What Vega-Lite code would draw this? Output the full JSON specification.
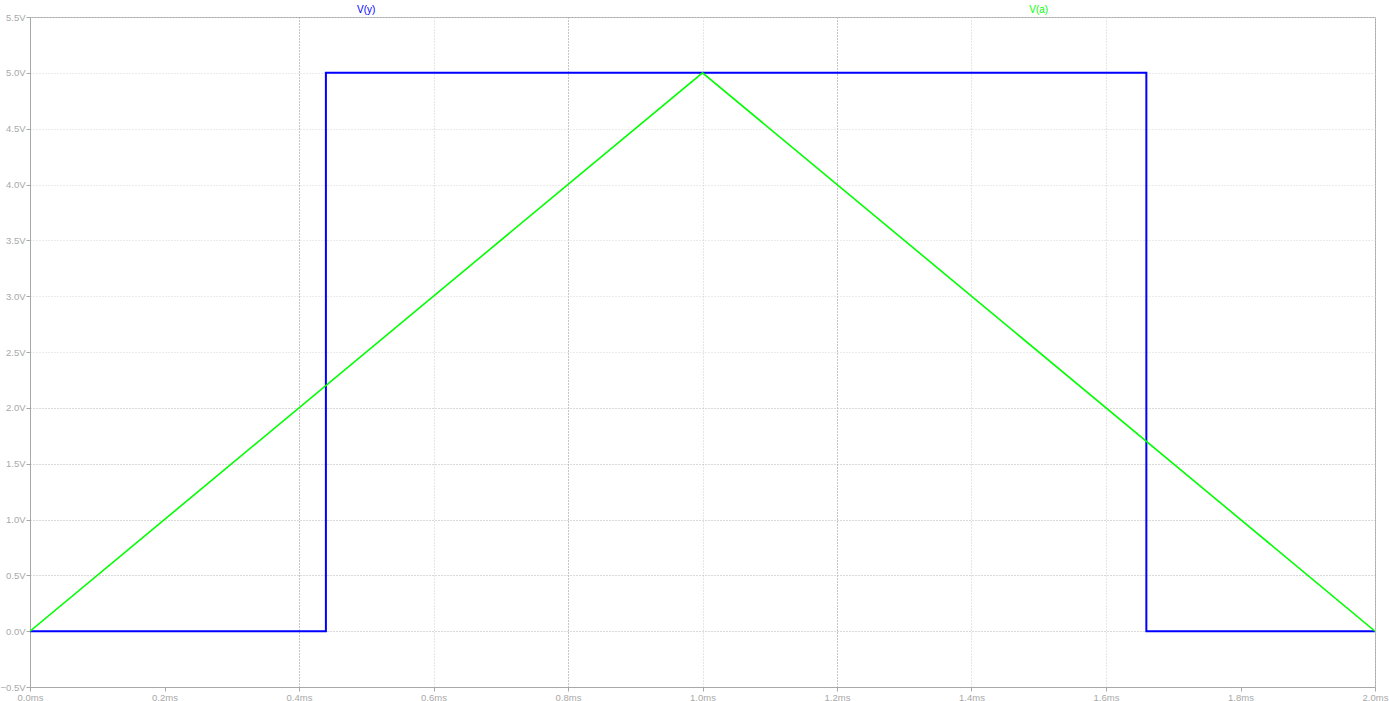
{
  "$schema": "https://vega.github.io/schema/vega-lite/v6.json",
  "width": 1345,
  "height": 670,
  "autosize": {"type": "none"},
  "padding": {"left": 30, "top": 17, "right": 14, "bottom": 14},
  "background": "white",
  "config": {
    "view": {"stroke": "#a8a8a8", "strokeWidth": 1},
    "font": "Liberation Sans"
  },
  "datasets": {
    "traces": [
      {"series": "V(y)", "i": 0, "t": 0.0, "v": 0.0},
      {"series": "V(y)", "i": 1, "t": 0.44, "v": 0.0},
      {"series": "V(y)", "i": 2, "t": 0.44, "v": 5.0},
      {"series": "V(y)", "i": 3, "t": 1.66, "v": 5.0},
      {"series": "V(y)", "i": 4, "t": 1.66, "v": 0.0},
      {"series": "V(y)", "i": 5, "t": 2.0, "v": 0.0},
      {"series": "V(a)", "i": 0, "t": 0.0, "v": 0.0},
      {"series": "V(a)", "i": 1, "t": 1.0, "v": 5.0},
      {"series": "V(a)", "i": 2, "t": 2.0, "v": 0.0}
    ],
    "labels": [
      {"series": "V(y)", "t": 0.5, "v": 5.5},
      {"series": "V(a)", "t": 1.5, "v": 5.5}
    ]
  },
  "layer": [
    {
      "data": {"name": "traces"},
      "transform": [{"filter": "datum.series === 'V(y)'"}],
      "mark": {"type": "line", "strokeWidth": 2, "clip": true},
      "encoding": {
        "x": {
          "field": "t", "type": "quantitative",
          "scale": {"domain": [0, 2], "nice": false, "zero": false},
          "axis": {
            "values": [0, 0.2, 0.4, 0.6, 0.8, 1.0, 1.2, 1.4, 1.6, 1.8, 2.0],
            "labelExpr": "format(datum.value, '.1f') + 'ms'",
            "title": null,
            "grid": true, "gridDash": [1, 2], "gridWidth": 1,
            "gridColor": {
              "condition": {"test": "abs(datum.value - 0.4) < 0.01 || abs(datum.value - 0.8) < 0.01 || abs(datum.value - 1.2) < 0.01", "value": "#8c8c8c"},
              "value": "#cccccc"
            },
            "gridOpacity": {
              "condition": {"test": "abs(datum.value - 0.2) < 0.01 || abs(datum.value - 1.8) < 0.01", "value": 0},
              "value": 1
            },
            "domainColor": "#a8a8a8", "tickColor": "#a8a8a8", "tickSize": 4,
            "labelColor": "#a8a8a8", "labelFontSize": 9.5, "labelPadding": 1,
            "labelFlush": false, "labelOverlap": false
          }
        },
        "y": {
          "field": "v", "type": "quantitative",
          "scale": {"domain": [-0.5, 5.5], "nice": false, "zero": false},
          "axis": {
            "values": [-0.5, 0, 0.5, 1, 1.5, 2, 2.5, 3, 3.5, 4, 4.5, 5, 5.5],
            "labelExpr": "format(datum.value, '.1f') + 'V'",
            "title": null,
            "grid": true, "gridDash": [1, 2], "gridWidth": 1,
            "gridColor": {
              "condition": {"test": "datum.value <= 2.01", "value": "#b4b4b4"},
              "value": "#d6d6d6"
            },
            "domainColor": "#a8a8a8", "tickColor": "#a8a8a8", "tickSize": 4,
            "labelColor": "#a8a8a8", "labelFontSize": 9.5, "labelPadding": 1,
            "labelFlush": false, "labelOverlap": false
          }
        },
        "order": {"field": "i", "type": "quantitative"},
        "color": {
          "field": "series", "type": "nominal",
          "scale": {"domain": ["V(y)", "V(a)"], "range": ["#0000ff", "#00ff00"]},
          "legend": null
        }
      }
    },
    {
      "data": {"name": "traces"},
      "transform": [{"filter": "datum.series === 'V(a)'"}],
      "mark": {"type": "line", "strokeWidth": 1.6, "clip": true},
      "encoding": {
        "x": {"field": "t", "type": "quantitative"},
        "y": {"field": "v", "type": "quantitative"},
        "order": {"field": "i", "type": "quantitative"},
        "color": {"field": "series", "type": "nominal", "legend": null}
      }
    },
    {
      "data": {"name": "labels"},
      "mark": {"type": "text", "baseline": "bottom", "align": "center", "dy": -2, "fontSize": 10},
      "encoding": {
        "x": {"field": "t", "type": "quantitative"},
        "y": {"field": "v", "type": "quantitative"},
        "text": {"field": "series", "type": "nominal"},
        "color": {"field": "series", "type": "nominal", "legend": null}
      }
    }
  ]
}
